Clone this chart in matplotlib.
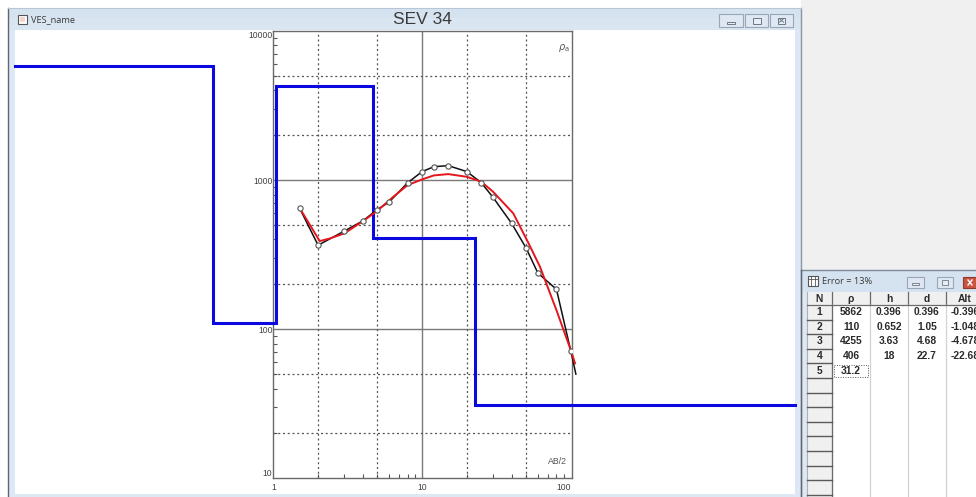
import numpy as np
import matplotlib
matplotlib.use("Agg")
import matplotlib.pyplot as plt
from matplotlib.patches import Rectangle
from matplotlib.ticker import FixedLocator, LogLocator, NullFormatter

W, H = 976, 497

# Field sounding: apparent resistivity vs AB/2
ab2_field = [1.5, 2, 3, 4, 5, 6, 8, 10, 12, 15, 20, 25, 30, 40, 50, 60, 80, 100, 108]
rho_field = [650, 366, 455, 533, 635, 712, 960, 1140, 1230, 1250, 1140, 960, 765,
             512, 350, 238, 185, 71, 50]

# Calculated response of the layered model
ab2_model = [1.5, 2.05, 2.4, 3, 4, 5, 6.4, 8, 10, 12, 15, 20, 25, 30, 41, 52, 62,
             80, 100, 106.6]
rho_model = [652, 390, 406, 439, 530, 622, 773, 926, 1011, 1075, 1097, 1052, 975,
             835, 598, 376, 262, 134, 72, 59]

# Layered earth model
layer_rho = [5862, 110, 4255, 406, 31.2]
layer_h = [0.396, 0.652, 3.63, 18]
layer_depth = [0.396, 1.05, 4.68, 22.7]
layer_alt = [-0.396, -1.048, -4.678, -22.68]

title = "SEV 34"
window_name = "VES_name"
error_pct = 13
table_cols = ["N", "ρ", "h", "d", "Alt"]

UI_FONT = ["Open Sans", "DejaVu Sans"]
PLOT_FONT = ["Liberation Sans", "DejaVu Sans"]

fig = plt.figure(figsize=(W / 100, H / 100), dpi=100)
fig.patch.set_facecolor("white")

# ---------- window chrome, drawn in pixel coordinates ----------
bg = fig.add_axes([0, 0, 1, 1], zorder=0)
bg.set_xlim(0, W)
bg.set_ylim(H, 0)
bg.axis("off")


def rect(x, y, w, h, **kw):
    bg.add_patch(Rectangle((x, y), w, h, **kw))


def hline(y, x0, x1, **kw):
    bg.plot([x0, x1], [y, y], **kw)


def vline(x, y0, y1, **kw):
    bg.plot([x, x], [y0, y1], **kw)


BORDER = "#dde8f4"
TITLEBAR = "#d5e2f0"
FRAME = "#5f6670"

# desktop area at the right
rect(801, 0, W - 801, H, fc="#f0f0f0", ec="none")

# main window frame
rect(8, 8, 793, 22, fc=TITLEBAR, ec="none")
rect(8, 18, 793, 12, fc="#dae5f2", ec="none")
rect(8, 30, 7, H - 30, fc=BORDER, ec="none")
rect(795, 30, 6, H - 30, fc=BORDER, ec="none")
rect(8, 494, 793, 3, fc=BORDER, ec="none")
vline(8, 8, H, color=FRAME, lw=1)
vline(801, 8, H, color="#8a96a4", lw=1)
hline(8, 8, 801, color="#b8c6d6", lw=0.8)

# window icon and caption
rect(18, 15, 9, 9, fc="white", ec="#555555", lw=0.8)
rect(20, 17, 5, 5, fc="#f2d7d0", ec="none")
bg.text(31, 19.5, window_name, fontsize=6.7, family=UI_FONT, color="#3a3a3a",
        ha="left", va="center")

# caption buttons
for bx, bw in [(719, 24), (745, 23), (770, 23)]:
    rect(bx, 14, bw, 13, fc="#dfe8f2", ec="#98a6b6", lw=0.8)
rect(727, 21.5, 8, 2.5, fc="#e8eef5", ec="#6c7886", lw=0.7)
rect(752.5, 17.5, 8, 6, fc="#e8eef5", ec="#6c7886", lw=0.7)
rect(778, 17.5, 7, 6, fc="#e8eef5", ec="#6c7886", lw=0.7)
bg.plot([779.5, 783.5], [18.8, 22.2], color="#6c7886", lw=0.7)
bg.plot([779.5, 783.5], [22.2, 18.8], color="#6c7886", lw=0.7)

# chart title in the caption bar
bg.text(422, 20, title, fontsize=12.5, family=PLOT_FONT, color="#3a3a3a",
        ha="center", va="center")

# ---------- parameter table window ----------
TX0 = 802
rect(TX0, 270, W - TX0, H - 270, fc=BORDER, ec="none")
rect(TX0, 271, W - TX0, 21, fc=TITLEBAR, ec="none")
hline(270, 801, W, color="#7d8a99", lw=1)
vline(801, 270, H, color=FRAME, lw=1)

# table window icon
rect(808, 276, 10, 10, fc="white", ec="#555555", lw=0.8)
for gx in (811.3, 814.6):
    vline(gx, 276, 286, color="#555555", lw=0.6)
hline(279, 808, 818, color="#555555", lw=0.6)
bg.text(822, 282, f"Error = {error_pct}%", fontsize=6.7, family=UI_FONT,
        color="#3a3a3a", ha="left", va="center")

rect(907, 277, 17, 11, fc="#dfe8f2", ec="#98a6b6", lw=0.8)
rect(912, 283, 7, 2, fc="#e8eef5", ec="#6c7886", lw=0.6)
rect(937, 277, 16, 11, fc="#dfe8f2", ec="#98a6b6", lw=0.8)
rect(942, 280, 6, 5, fc="#e8eef5", ec="#6c7886", lw=0.6)
rect(963, 277, 22, 11, fc="#c9543f", ec="#8e3b2d", lw=0.8)
bg.plot([968, 972], [280, 285], color="white", lw=1)
bg.plot([968, 972], [285, 280], color="white", lw=1)

# grid geometry
col_edges = [807, 832, 870, 908, 946, 984]
head_top, head_bot = 292, 305
row_h = 14.6
n_rows = 13

rect(807, head_top, W - 807, head_bot - head_top, fc="#f0f0f0", ec="none")
rect(807, head_bot, col_edges[1] - 807, H - head_bot, fc="#f0f0f0", ec="none")
rect(col_edges[1], head_bot, W - col_edges[1], H - head_bot, fc="white", ec="none")

for xe in col_edges[1:-1]:
    vline(xe, head_top, head_bot, color="#6a6a6a", lw=0.9)
    vline(xe, head_bot, H, color="#d2d2d2", lw=0.9)
vline(col_edges[1], head_bot, H, color="#6a6a6a", lw=0.9)
vline(807, head_top, H, color="#b0b0b0", lw=0.8)
hline(head_bot, 807, W, color="#6a6a6a", lw=0.9)
for k in range(1, n_rows + 1):
    yb = head_bot + k * row_h
    hline(yb, 807, col_edges[1], color="#5a5a5a", lw=1.0)

TABLE_FONT = dict(fontsize=7.4, family=PLOT_FONT, fontweight="bold", color="#2a2a2a",
                  ha="center", va="center")
centers = [(col_edges[i] + col_edges[i + 1]) / 2 for i in range(len(col_edges) - 1)]
centers[-1] = 965
for cx, name in zip(centers, table_cols):
    bg.text(cx, (head_top + head_bot) / 2 + 0.5, name, **TABLE_FONT)

for i, rho in enumerate(layer_rho):
    cy = head_bot + (i + 0.5) * row_h
    bg.text(centers[0], cy, str(i + 1), **TABLE_FONT)
    bg.text(centers[1], cy, f"{rho:g}", **TABLE_FONT)
    if i < len(layer_h):
        bg.text(centers[2], cy, f"{layer_h[i]:g}", **TABLE_FONT)
        bg.text(centers[3], cy, f"{layer_depth[i]:g}", **TABLE_FONT)
        bg.text(centers[4], cy, f"{layer_alt[i]:g}", **TABLE_FONT)

# focus box on the last edited cell
last = len(layer_rho) - 1
rect(col_edges[1] + 2, head_bot + last * row_h + 1.5, col_edges[2] - col_edges[1] - 4,
     row_h - 3, fc="none", ec="#555555", lw=0.7, ls=(0, (1, 1.5)))

# ---------- sounding plot ----------
AX_L, AX_R, AX_T, AX_B = 273.3, 571.9, 31.0, 478.3
ax = fig.add_axes([AX_L / W, 1 - AX_B / H, (AX_R - AX_L) / W, (AX_B - AX_T) / H],
                  zorder=2)
ax.set_facecolor("none")
ax.set_xscale("log")
ax.set_yscale("log")
ax.set_xlim(1, 10 ** ((AX_R - AX_L) / 148.8))
ax.set_ylim(10, 10000)

for s in ax.spines.values():
    s.set_color("#6a6a6a")
    s.set_linewidth(1.0)

# grid: solid at decades, dotted at 2 and 5
for xv in (10,):
    ax.axvline(xv, color="#7a7a7a", lw=1.0, zorder=1)
for yv in (100, 1000):
    ax.axhline(yv, color="#7a7a7a", lw=1.0, zorder=1)
for xv in (2, 5, 20, 50):
    ax.axvline(xv, color="#555555", lw=0.9, ls=(0, (1.6, 2.2)), zorder=1)
for yv in (20, 50, 200, 500, 2000, 5000):
    ax.axhline(yv, color="#555555", lw=0.9, ls=(0, (1.6, 2.2)), zorder=1)

ax.xaxis.set_major_locator(FixedLocator([1, 10, 100]))
ax.yaxis.set_major_locator(FixedLocator([10, 100, 1000, 10000]))
ax.xaxis.set_minor_locator(LogLocator(base=10, subs=np.arange(2, 10)))
ax.yaxis.set_minor_locator(LogLocator(base=10, subs=np.arange(2, 10)))
ax.xaxis.set_minor_formatter(NullFormatter())
ax.yaxis.set_minor_formatter(NullFormatter())
ax.set_xticklabels(["1", "10", "100"])
ax.set_yticklabels(["10", "100", "1000", "10000"])
ax.tick_params(which="both", direction="in", color="#555555", width=0.8,
               labelsize=6.2, labelcolor="#404040")
ax.tick_params(which="major", length=0)
ax.tick_params(which="minor", length=2.6)
ax.tick_params(axis="x", pad=3.5)
ax.tick_params(axis="y", pad=0.6)
for lbl in ax.get_xticklabels() + ax.get_yticklabels():
    lbl.set_family(PLOT_FONT)
ax.get_xticklabels()[-1].set_horizontalalignment("right")
ylbls = ax.get_yticklabels()
ylbls[0].set_verticalalignment("bottom")
ylbls[-1].set_verticalalignment("top")

ax.text(0.972, 0.975, r"$\rho_{\mathrm{a}}$", transform=ax.transAxes, fontsize=7,
        color="#555555", ha="center", va="top")
ax.text(0.985, 0.028, "AB/2", transform=ax.transAxes, fontsize=6.3,
        family=PLOT_FONT, color="#555555", ha="right", va="bottom")

# layered model as a step curve spanning the whole window content
inv = ax.transData.inverted()
x_left = inv.transform((15, 200))[0]
x_right = inv.transform((795, 200))[0]
step_x = [x_left]
step_y = [layer_rho[0]]
for depth, rho_top, rho_bot in zip(layer_depth, layer_rho[:-1], layer_rho[1:]):
    step_x += [depth, depth]
    step_y += [rho_top, rho_bot]
step_x.append(x_right)
step_y.append(layer_rho[-1])
ax.plot(step_x, step_y, color="#0a0ae0", lw=2.2, clip_on=False, zorder=3,
        solid_joinstyle="miter")

ax.plot(ab2_field, rho_field, color="#111111", lw=1.1, clip_on=False, zorder=4)
ax.plot(ab2_model, rho_model, color="#e5161c", lw=1.4, clip_on=False, zorder=5)
ax.plot(ab2_field, rho_field, ls="none", marker="o", ms=3.8, mfc="white",
        mec="#555555", mew=0.8, zorder=6)

fig.savefig("out.png", dpi=100)
